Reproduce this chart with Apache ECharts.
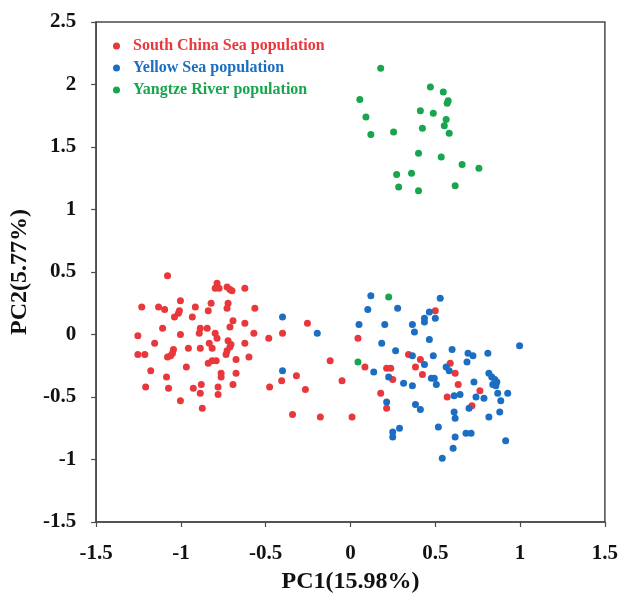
<!DOCTYPE html>
<html>
<head>
<meta charset="utf-8">
<script src="https://cdn.jsdelivr.net/npm/echarts@6/dist/echarts.min.js"></script>
<style>
  html, body { margin: 0; padding: 0; background: #fff; }
  #chart { width: 621px; height: 600px; }
</style>
</head>
<body>
<div id="chart"></div>
<script>
// PCA scores, [PC1, PC2] per individual
const southChinaSea = [
  [-1.079, 0.47], [-0.787, 0.41], [-0.798, 0.37], [-0.775, 0.37], [-0.728, 0.38], [-0.711, 0.36],
  [-0.699, 0.35], [-0.623, 0.37], [-1.003, 0.27], [-1.231, 0.22], [-1.132, 0.22], [-1.096, 0.20],
  [-1.009, 0.19], [-1.015, 0.17], [-1.038, 0.14], [-0.915, 0.22], [-0.822, 0.25], [-0.839, 0.19],
  [-0.722, 0.25], [-0.728, 0.21], [-0.564, 0.21], [-0.933, 0.14], [-0.693, 0.11], [-0.711, 0.06],
  [-0.623, 0.09], [-1.108, 0.05], [-0.845, 0.05], [-0.886, 0.05], [-0.892, 0.01], [-0.798, 0.01],
  [-0.787, -0.03], [-1.003, 0.00], [-1.254, -0.01], [-0.570, 0.01], [-0.482, -0.03], [-0.401, 0.01],
  [-1.155, -0.07], [-0.833, -0.07], [-0.816, -0.11], [-0.722, -0.05], [-0.705, -0.08], [-0.711, -0.10],
  [-0.623, -0.07], [-1.254, -0.16], [-1.213, -0.16], [-1.044, -0.12], [-1.050, -0.15], [-1.079, -0.18],
  [-1.061, -0.17], [-0.956, -0.11], [-0.886, -0.11], [-0.728, -0.13], [-0.734, -0.16], [-0.599, -0.18],
  [-0.675, -0.20], [-0.839, -0.23], [-0.816, -0.21], [-0.792, -0.21], [-1.178, -0.29], [-0.968, -0.26],
  [-0.763, -0.31], [-0.763, -0.34], [-0.675, -0.31], [-1.085, -0.34], [-0.406, -0.37], [-1.208, -0.42],
  [-1.073, -0.43], [-0.927, -0.43], [-0.880, -0.40], [-0.886, -0.47], [-0.781, -0.42], [-0.693, -0.40],
  [-0.477, -0.42], [-0.781, -0.48], [-1.003, -0.53], [-0.874, -0.59], [-0.342, -0.64], [-0.254, 0.09],
  [0.044, -0.03], [-0.120, -0.21], [0.085, -0.26], [0.213, -0.27], [0.237, -0.27], [0.249, -0.36],
  [-0.319, -0.33], [-0.266, -0.44], [-0.050, -0.37], [0.178, -0.47], [0.213, -0.59], [-0.178, -0.66],
  [0.009, -0.66], [0.500, 0.19], [0.342, -0.16], [0.412, -0.20], [0.383, -0.26], [0.588, -0.23],
  [0.617, -0.31], [0.424, -0.32], [0.635, -0.40], [0.763, -0.45], [0.570, -0.50], [0.716, -0.57]
];

const yellowSea = [
  [-0.401, 0.14], [-0.401, -0.29], [-0.196, 0.01], [0.120, 0.31], [0.102, 0.20], [0.278, 0.21],
  [0.529, 0.29], [0.050, 0.08], [0.202, 0.08], [0.184, -0.07], [0.266, -0.13], [0.137, -0.30],
  [0.225, -0.34], [0.213, -0.54], [0.289, -0.75], [0.249, -0.78], [0.249, -0.82], [0.518, -0.74],
  [0.541, -0.99], [0.465, 0.18], [0.436, 0.13], [0.436, 0.10], [0.500, 0.13], [0.365, 0.08],
  [0.377, 0.02], [0.465, -0.04], [0.997, -0.09], [0.365, -0.17], [0.488, -0.17], [0.599, -0.12],
  [0.693, -0.15], [0.722, -0.17], [0.687, -0.22], [0.810, -0.15], [0.436, -0.24], [0.564, -0.26],
  [0.582, -0.29], [0.477, -0.35], [0.494, -0.35], [0.506, -0.40], [0.313, -0.39], [0.365, -0.41],
  [0.728, -0.38], [0.816, -0.31], [0.833, -0.34], [0.851, -0.36], [0.839, -0.40], [0.863, -0.38],
  [0.857, -0.41], [0.868, -0.47], [0.927, -0.47], [0.886, -0.53], [0.740, -0.50], [0.787, -0.51],
  [0.611, -0.49], [0.646, -0.48], [0.699, -0.59], [0.383, -0.56], [0.412, -0.60], [0.611, -0.62],
  [0.617, -0.67], [0.816, -0.66], [0.880, -0.62], [0.681, -0.79], [0.711, -0.79], [0.617, -0.82],
  [0.915, -0.85], [0.605, -0.91]
];

const yangtzeRiver = [
  [0.178, 2.13], [0.471, 1.98], [0.547, 1.94], [0.576, 1.87], [0.570, 1.85], [0.055, 1.88],
  [0.412, 1.79], [0.488, 1.77], [0.091, 1.74], [0.564, 1.72], [0.553, 1.67], [0.120, 1.60],
  [0.254, 1.62], [0.424, 1.65], [0.582, 1.61], [0.401, 1.45], [0.535, 1.42], [0.658, 1.36],
  [0.757, 1.33], [0.272, 1.28], [0.360, 1.29], [0.284, 1.18], [0.401, 1.15], [0.617, 1.19],
  [0.225, 0.30], [0.044, -0.22]
];

const seriesNames = ['South China Sea population', 'Yellow Sea population', 'Yangtze River population'];
const seriesColors = ['#e8383c', '#1c6ec3', '#17a64d'];
const seriesData = [southChinaSea, yellowSea, yangtzeRiver];

const serif = '"Liberation Serif", "Times New Roman", serif';
const axisColor = '#4a4a4a';

const chart = echarts.init(document.getElementById('chart'), null, { renderer: 'canvas' });

chart.setOption({
  backgroundColor: '#ffffff',
  animation: false,
  grid: {
    left: 92, right: 16, top: 22, bottom: 78,
    show: true, borderColor: axisColor, borderWidth: 1.5, backgroundColor: 'transparent'
  },
  legend: {
    orient: 'vertical',
    left: 108, top: 33,
    icon: 'circle',
    itemWidth: 7, itemHeight: 7,
    itemGap: 6,
    textStyle: { fontFamily: serif, fontWeight: 'bold', fontSize: 16, padding: [0, 0, 0, 8] },
    data: seriesNames.map((n, i) => ({ name: n, textStyle: { color: seriesColors[i] } }))
  },
  xAxis: {
    type: 'value', min: -1.5, max: 1.5, interval: 0.5,
    name: 'PC1(15.98%)', nameLocation: 'middle', nameGap: 48,
    nameTextStyle: { fontFamily: serif, fontWeight: 'bold', fontSize: 24, color: '#111' },
    axisLine: { show: true, onZero: false, lineStyle: { color: axisColor, width: 1.5 } },
    axisTick: { show: true, inside: false, length: 5, lineStyle: { color: axisColor, width: 1.2 } },
    axisLabel: { fontFamily: serif, fontWeight: 'bold', fontSize: 21, color: '#111', margin: 21 },
    splitLine: { show: false }
  },
  yAxis: {
    type: 'value', min: -1.5, max: 2.5, interval: 0.5,
    name: 'PC2(5.77%)', nameLocation: 'middle', nameGap: 56, nameRotate: 90,
    nameTextStyle: { fontFamily: serif, fontWeight: 'bold', fontSize: 24, color: '#111' },
    axisLine: { show: true, onZero: false, lineStyle: { color: axisColor, width: 1.5 } },
    axisTick: { show: true, inside: false, length: 5, lineStyle: { color: axisColor, width: 1.2 } },
    axisLabel: { fontFamily: serif, fontWeight: 'bold', fontSize: 21, color: '#111', margin: 20 },
    splitLine: { show: false }
  },
  series: seriesNames.map((n, i) => ({
    name: n,
    type: 'scatter',
    symbol: 'circle',
    symbolSize: 7,
    itemStyle: { color: seriesColors[i], opacity: 1 },
    data: seriesData[i]
  }))
});
</script>
</body>
</html>
